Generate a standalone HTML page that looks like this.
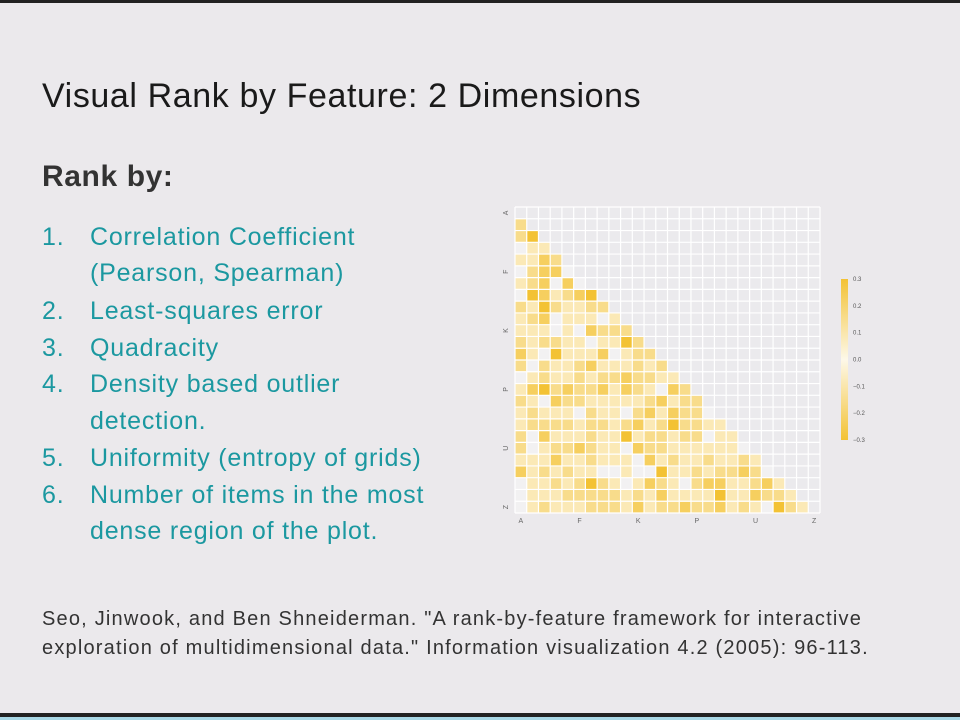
<!DOCTYPE html>
<html><head><meta charset="utf-8"><style>
body{margin:0;width:960px;height:720px;background:#ebe9ec;position:relative;overflow:hidden;font-family:"Liberation Sans",sans-serif}
.abs{position:absolute;white-space:nowrap}
.li{position:absolute;color:#1b98a0;font-size:25px;line-height:28px;letter-spacing:0.8px;white-space:nowrap}
</style></head><body>
<div class="abs" style="left:0;top:0;width:960px;height:3px;background:#222"></div>
<div class="abs" style="left:42px;top:77px;font-size:34px;letter-spacing:0.6px;color:#1a1a1a">Visual Rank by Feature: 2 Dimensions</div>
<div class="abs" style="left:42px;top:160px;font-size:30px;letter-spacing:0.6px;font-weight:bold;color:#333">Rank by:</div>
<div>
<div class="li" style="left:42px;top:223px">1.</div><div class="li" style="left:90px;top:223px">Correlation Coefficient</div>
<div class="li" style="left:90px;top:259px">(Pearson, Spearman)</div>
<div class="li" style="left:42px;top:297px">2.</div><div class="li" style="left:90px;top:297px">Least-squares error</div>
<div class="li" style="left:42px;top:334px">3.</div><div class="li" style="left:90px;top:334px">Quadracity</div>
<div class="li" style="left:42px;top:370px">4.</div><div class="li" style="left:90px;top:370px">Density based outlier</div>
<div class="li" style="left:90px;top:407px">detection.</div>
<div class="li" style="left:42px;top:444px">5.</div><div class="li" style="left:90px;top:444px">Uniformity (entropy of grids)</div>
<div class="li" style="left:42px;top:481px">6.</div><div class="li" style="left:90px;top:481px">Number of items in the most</div>
<div class="li" style="left:90px;top:517px">dense region of the plot.</div>
</div>
<div class="abs" style="left:42px;top:605px;font-size:20px;letter-spacing:1.2px;line-height:29px;color:#333">Seo, Jinwook, and Ben Shneiderman. "A rank-by-feature framework for interactive<br>exploration of multidimensional data." Information visualization 4.2 (2005): 96-113.</div>
<div class="abs" style="left:0;top:713px;width:960px;height:4px;background:#222"></div>
<div class="abs" style="left:0;top:717px;width:960px;height:3px;background:#a8d8e6"></div>
<svg id="chart" class="abs" style="left:0;top:0" width="960" height="720"></svg>
<script>
const labels=["A","B","C","D","E","F","G","H","I","J","K","L","M","N","O","P","Q","R","S","T","U","V","W","X","Y","Z"];
const tickLabels=["A","F","K","P","U","Z"];
const colorTicks=[0.3,0.2,0.1,0.0,-0.1,-0.2,-0.3];
const rows=[[],[2],[2,4],[0,1,1],[1,1,3,2],[0,2,3,3,0],[1,2,3,0,3,0],[0,4,3,1,2,3,4],[2,1,4,2,1,1,2,2],[1,2,3,0,1,1,1,0,1],
[1,1,1,0,1,0,3,2,2,2],[2,1,2,2,1,1,0,1,1,4,2],[3,1,0,4,1,1,1,3,0,1,2,2],[2,0,2,1,1,2,3,1,1,1,2,1,2],[0,1,2,1,1,2,1,2,2,3,2,2,1,1],
[1,3,4,2,3,2,2,3,1,3,2,1,0,3,2],[2,1,0,3,2,2,1,1,1,1,1,2,3,1,2,2],[1,2,1,1,1,0,2,1,1,0,2,3,1,3,2,2,0],[1,2,2,2,2,1,2,2,1,2,3,1,2,4,2,2,1,1],
[2,0,3,1,1,1,2,1,1,4,1,2,2,1,2,2,0,1,1],[2,0,1,2,2,3,2,1,1,0,3,2,2,1,1,1,1,1,1,0],[1,1,1,3,1,1,2,1,1,1,0,3,1,2,1,1,2,1,1,2,1],
[3,1,2,1,2,1,1,0,0,1,0,0,4,1,1,2,1,2,2,3,2,0],[0,1,1,2,1,2,4,2,1,0,1,3,2,1,0,2,3,3,1,1,2,3,1],[0,1,1,1,2,2,2,2,2,1,2,1,3,1,1,1,1,4,1,1,3,2,2,1],
[0,1,2,1,1,1,2,2,2,1,3,1,2,2,3,2,2,3,1,2,1,0,4,2,1]];
const svg=document.getElementById('chart'),NS='http://www.w3.org/2000/svg';
const x0=515,y0=207,cw=(820-515)/26,ch=(513-207)/26;
const xs=i=>x0+i*cw, ys=i=>y0+i*ch;
function col(v){const t=Math.min(1,Math.abs(v)/0.3);const c0=[242,241,242],c1=[243,194,52];
const l=t<0.08?c0:[253,246,225].map((a,k)=>Math.round(a+(c1[k]-a)*t));return `rgb(${l.join(',')})`;}
function mk(t,a){const e=document.createElementNS(NS,t);for(const k in a)e.setAttribute(k,a[k]);svg.appendChild(e);return e;}
const bg=mk('rect',{x:x0,y:y0,width:cw*26,height:ch*26,fill:'#ebeaed'});


rows.forEach((r,i)=>r.forEach((lv,j)=>{const v=lv*0.075;
const c=mk('rect',{x:xs(j),y:ys(i),width:cw,height:ch,fill:col(v)});

}));
for(let i=0;i<=26;i++){const g=mk('line',{x1:xs(i),x2:xs(i),y1:y0,y2:ys(26),stroke:'#fff','stroke-width':1.2});


const h=mk('line',{x1:x0,x2:xs(26),y1:ys(i),y2:ys(i),stroke:'#fff','stroke-width':1.2});

}
tickLabels.forEach(t=>{const i=labels.indexOf(t);
const a=mk('text',{x:xs(i)+cw/2,y:523,'font-size':7,fill:'#666','text-anchor':'middle','font-family':'Liberation Sans'});a.textContent=t;


const yy=ys(i)+ch/2;const b=mk('text',{x:508,y:yy,'font-size':7,fill:'#666','text-anchor':'middle','font-family':'Liberation Sans',transform:`rotate(-90 508 ${yy})`});b.textContent=t;

});
const gr=mk('defs',{});gr.innerHTML='<linearGradient id="cb" x1="0" y1="0" x2="0" y2="1"><stop offset="0" stop-color="#f3c234"/><stop offset="0.5" stop-color="#fdf8e8"/><stop offset="1" stop-color="#f3c234"/></linearGradient>';
const cb=mk('rect',{x:841,y:279,width:7,height:161,fill:'url(#cb)'});


const cy=v=>279+(0.3-v)/0.6*161;
colorTicks.forEach(v=>{const t=mk('text',{x:853,y:cy(v)+2,'font-size':6,fill:'#555','font-family':'Liberation Sans'});
t.textContent=v===0?'0.0':(v<0?'\u2212'+Math.abs(v).toFixed(1):v.toFixed(1));

});
</script>
</body></html>
